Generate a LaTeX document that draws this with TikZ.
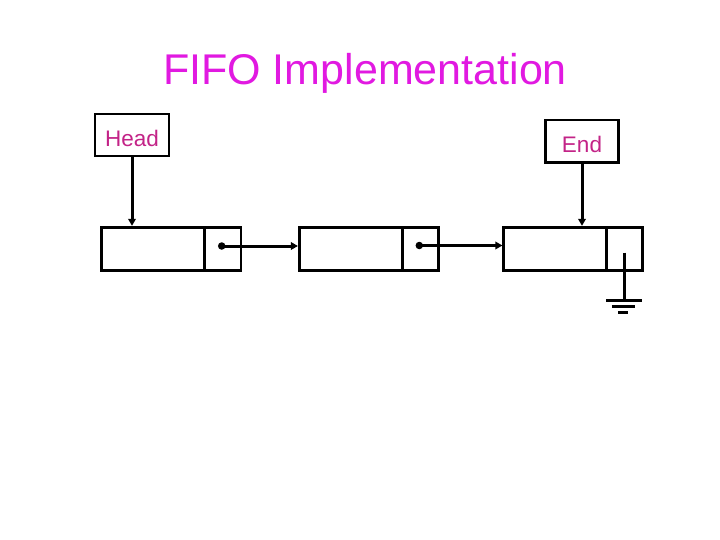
\documentclass[tikz,border=0pt]{standalone}
\usepackage{fontspec}
\setmainfont{Liberation Sans}
\usetikzlibrary{arrows.meta}
\definecolor{titlemag}{RGB}{225,25,225}
\definecolor{labmag}{RGB}{195,35,135}
\begin{document}
\begin{tikzpicture}[x=1pt,y=-1pt,
  box/.style={draw=black,line width=2.8pt,minimum height=43.5pt,inner sep=0pt,anchor=center},
  databox/.style={box,minimum width=103pt},
  ptrbox/.style={box,minimum width=36pt},
  labbox/.style={draw=black,line width=2.6pt,inner sep=0pt,text height=23pt,text depth=0pt,
    font=\fontsize{22.5}{24}\selectfont,text=labmag},
  link/.style={line width=3pt,-{Triangle[length=7pt,width=7.5pt]}},
  wire/.style={line width=3pt},
  dot/.style={circle,fill=black,inner sep=0pt,minimum size=7.5pt}]
\useasboundingbox (0,0) rectangle (720,540);
\fill[white] (0,0) rectangle (720,540);
\node[anchor=base,text=titlemag,font=\fontsize{43}{46}\selectfont] (title) at (365,85) {FIFO Implementation};
\node[labbox,minimum width=74pt,minimum height=42pt] (head) at (132,135) {Head};
\node[labbox,minimum width=72.6pt,minimum height=42.3pt] (end) at (582,141.2) {End};
% nodes of the list
\node[databox] (d1) at (153.2,249) {};
\node[ptrbox] (p1) at (223,249) {};
\node[databox] (d2) at (350.8,249) {};
\node[ptrbox] (p2) at (420.3,249) {};
\node[databox] (d3) at (555.3,249) {};
\node[ptrbox] (p3) at (624.7,249) {};
\node[dot] (k1) at (221.7,246) {};
\node[dot] (k2) at (419.3,245.5) {};
% links
\draw[link] (k1.center) -- (k1.center -| d2.west);
\draw[link] (k2.center) -- (k2.center -| d3.west);
\draw[link] (head.south) -- (head.south |- d1.north);
\draw[link] (end.south) -- (end.south |- d3.north);
% ground
\coordinate (g) at (624.3,300);
\coordinate (gs) at (624.3,252.5);
\draw[wire] (gs) -- (g);
\draw[wire] (g) ++(-18,0) -- ++(35.5,0);
\draw[wire] (g) ++(-12.5,6) -- ++(23.5,0);
\draw[wire] (g) ++(-6.3,12) -- ++(10.3,0);
\end{tikzpicture}
\end{document}
